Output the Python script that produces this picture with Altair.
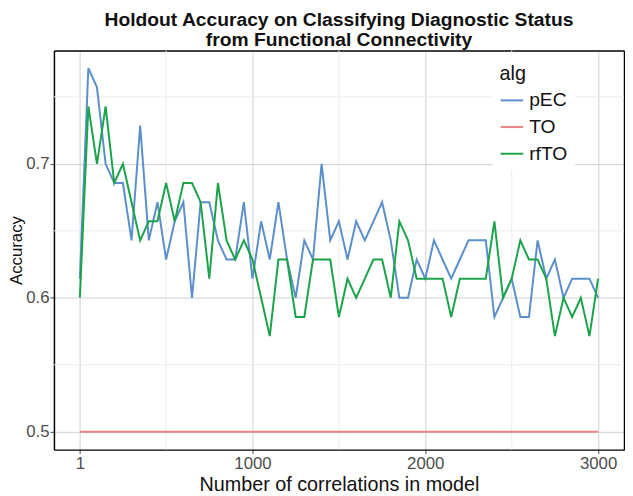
import altair as alt
import pandas as pd

x_vals = [1, 50, 100, 150, 200, 250, 300, 350, 400, 450,
          500, 550, 600, 650, 700, 750, 800, 850, 900, 950,
          1000, 1050, 1100, 1150, 1200, 1250, 1300, 1350, 1400, 1450,
          1500, 1550, 1600, 1650, 1700, 1750, 1800, 1850, 1900, 1950,
          2000, 2050, 2100, 2150, 2200, 2250, 2300, 2350, 2400, 2450,
          2500, 2550, 2600, 2650, 2700, 2750, 2800, 2850, 2900, 2950,
          3000]

pec = [0.6143, 0.7714, 0.7571, 0.7, 0.6857, 0.6857, 0.6429, 0.7286, 0.6429, 0.6714,
       0.6286, 0.6571, 0.6714, 0.6, 0.6714, 0.6714, 0.6429, 0.6286, 0.6286, 0.6714,
       0.6143, 0.6571, 0.6286, 0.6714, 0.6286, 0.6, 0.6429, 0.6286, 0.7, 0.6429,
       0.6571, 0.6286, 0.6571, 0.6429, 0.6571, 0.6714, 0.6429, 0.6, 0.6, 0.6286,
       0.6143, 0.6429, 0.6286, 0.6143, 0.6286, 0.6429, 0.6429, 0.6429, 0.5857, 0.6,
       0.6143, 0.5857, 0.5857, 0.6429, 0.6143, 0.6286, 0.6, 0.6143, 0.6143, 0.6143,
       0.6]

to = [0.5, 0.5, 0.5, 0.5, 0.5, 0.5, 0.5, 0.5, 0.5, 0.5,
      0.5, 0.5, 0.5, 0.5, 0.5, 0.5, 0.5, 0.5, 0.5, 0.5,
      0.5, 0.5, 0.5, 0.5, 0.5, 0.5, 0.5, 0.5, 0.5, 0.5,
      0.5, 0.5, 0.5, 0.5, 0.5, 0.5, 0.5, 0.5, 0.5, 0.5,
      0.5, 0.5, 0.5, 0.5, 0.5, 0.5, 0.5, 0.5, 0.5, 0.5,
      0.5, 0.5, 0.5, 0.5, 0.5, 0.5, 0.5, 0.5, 0.5, 0.5,
      0.5]

rfto = [0.6, 0.7429, 0.7, 0.7429, 0.6857, 0.7, 0.6714, 0.6429, 0.6571, 0.6571,
        0.6857, 0.6571, 0.6857, 0.6857, 0.6714, 0.6143, 0.6857, 0.6429, 0.6286, 0.6429,
        0.6286, 0.6, 0.5714, 0.6286, 0.6286, 0.5857, 0.5857, 0.6286, 0.6286, 0.6286,
        0.5857, 0.6143, 0.6, 0.6143, 0.6286, 0.6286, 0.6, 0.6571, 0.6429, 0.6143,
        0.6143, 0.6143, 0.6143, 0.5857, 0.6143, 0.6143, 0.6143, 0.6143, 0.6571, 0.6,
        0.6143, 0.6429, 0.6286, 0.6286, 0.6143, 0.5714, 0.6, 0.5857, 0.6, 0.5714,
        0.6143]

algs = ["pEC", "TO", "rfTO"]
colors = ["#5b8fcb", "#ef8282", "#1ba34a"]

x_major = [1, 1000, 2000, 3000]
x_minor = [500.5, 1500, 2500]
y_major = [0.5, 0.6, 0.7]
y_minor = [0.55, 0.65, 0.75]

PLOT_W = 577
PLOT_H = 404

rows = []
for name, series in zip(algs, [pec, to, rfto]):
    for xv, yv in zip(x_vals, series):
        rows.append({"n": xv, "acc": yv, "alg": name})
df = pd.DataFrame(rows)

xscale = alt.Scale(domain=[-149, 3150], nice=False, zero=False)
yscale = alt.Scale(domain=[0.4867, 0.7846], nice=False, zero=False)

# minor gridlines; their axes supply the top and right edges of the panel frame
minor_x = alt.Chart(pd.DataFrame({"n": x_minor})).mark_rule(
    color="#ebebeb", strokeWidth=1
).encode(x=alt.X("n:Q", scale=xscale,
                 axis=alt.Axis(orient="top", labels=False, ticks=False,
                               grid=False, title="", domain=True)))

minor_y = alt.Chart(pd.DataFrame({"acc": y_minor})).mark_rule(
    color="#ebebeb", strokeWidth=1
).encode(y=alt.Y("acc:Q", scale=yscale,
                 axis=alt.Axis(orient="right", labels=False, ticks=False,
                               grid=False, title="", domain=True)))

lines = alt.Chart(df).mark_line(strokeWidth=2).encode(
    x=alt.X("n:Q", scale=xscale,
            axis=alt.Axis(values=x_major, format="d", grid=True,
                          title="Number of correlations in model")),
    y=alt.Y("acc:Q", scale=yscale,
            axis=alt.Axis(values=y_major, format=".1f", grid=True,
                          title="Accuracy")),
    color=alt.Color("alg:N", scale=alt.Scale(domain=algs, range=colors),
                    legend=alt.Legend(title="alg", orient="none",
                                      legendX=444, legendY=7)),
    order=alt.Order("n:Q"),
)

chart = alt.layer(minor_x, minor_y, lines).resolve_axis(
    x="independent", y="independent"
).properties(
    width=PLOT_W,
    height=PLOT_H,
    title=alt.TitleParams(
        ["Holdout Accuracy on Classifying Diagnostic Status",
         "from Functional Connectivity"],
        anchor="middle", fontSize=19.5, fontWeight="bold",
        font="Liberation Sans", color="#111111", lineHeight=20, offset=0),
    autosize=alt.AutoSizeParams(type="none"),
    padding={"left": 46.5, "top": 40, "right": 1, "bottom": 50},
).configure_view(
    strokeWidth=0
).configure_axis(
    labelFont="Liberation Sans", titleFont="Liberation Sans",
    labelFontSize=17, labelColor="#4d4d4d",
    titleFontSize=20, titleFontWeight="normal", titleColor="#111111",
    gridColor="#d0d0d0", gridWidth=1,
    tickColor="#4d4d4d", tickSize=4,
    domain=True, domainColor="black", domainWidth=1.5,
    labelPadding=2,
).configure_axisX(
    titlePadding=3
).configure_axisY(
    titlePadding=0, titleFontSize=17, labelPadding=1
).configure_legend(
    labelFont="Liberation Sans", titleFont="Liberation Sans",
    labelFontSize=19.5, titleFontSize=20, titleFontWeight="normal",
    labelColor="#111111", titleColor="#111111",
    symbolType="stroke", symbolSize=520, symbolStrokeWidth=2,
    rowPadding=5, fillColor="white", padding=7, labelOffset=5,
    titlePadding=4,
)

chart.save("out.html", embed_options={"renderer": "svg", "actions": False})
